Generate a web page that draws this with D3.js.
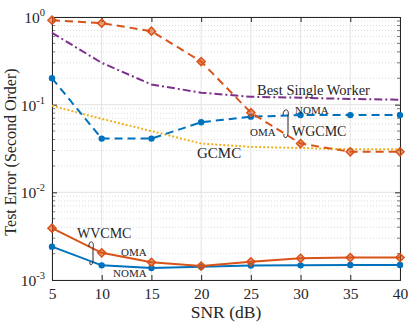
<!DOCTYPE html>
<html>
<head>
<meta charset="utf-8">
<script src="https://cdn.jsdelivr.net/npm/d3@7"></script>
<style>
  body { margin: 0; background: #fff; }
  text { font-family: "Liberation Serif", "DejaVu Serif", serif; fill: #262626; }
</style>
</head>
<body>
<div class="canvas"></div>
<script>
// data
const snr = [5, 10, 15, 20, 25, 30, 35, 40];
const wgcmcOma = [0.92, 0.85, 0.69, 0.31, 0.081, 0.036, 0.029, 0.029];
const wgcmcNoma = [0.20, 0.041, 0.041, 0.063, 0.073, 0.076, 0.076, 0.076];
const gcmc = [0.097, 0.069, 0.050, 0.036, 0.033, 0.032, 0.031, 0.031];
const bestSingle = [0.66, 0.30, 0.17, 0.137, 0.123, 0.12, 0.116, 0.114];
const wvcmcOma = [0.0039, 0.00204, 0.00159, 0.00144, 0.00161, 0.00177, 0.0018, 0.0018];
const wvcmcNoma = [0.0024, 0.00147, 0.00137, 0.00142, 0.00146, 0.00147, 0.00148, 0.00148];
const yTicks = [1e-3, 1e-2, 1e-1, 1e0];
const yTickExp = ['-3', '-2', '-1', '0'];

const W = 409, H = 327;
const margin = {top: 17, right: 9, bottom: 47, left: 52};
const graphWidth = W - margin.left - margin.right;
const graphHeight = H - margin.top - margin.bottom;

const svg = d3.select('.canvas')
              .append('svg')
              .attr('width', W)
              .attr('height', H);

const graph = svg.append('g')
                 .attr('transform', `translate(${margin.left}, ${margin.top})`);

const x = d3.scaleLinear().domain([5, 40]).range([0, graphWidth]);
const y = d3.scaleLog().domain([1e-3, 1]).range([graphHeight, 0]);

// minor grid (dotted)
const minor = [];
for (let e = -3; e < 0; e++) {
  for (let k = 2; k <= 9; k++) minor.push(k * Math.pow(10, e));
}
graph.selectAll('.minor')
     .data(minor)
     .enter().append('line')
     .attr('x1', 0).attr('x2', graphWidth)
     .attr('y1', d => y(d)).attr('y2', d => y(d))
     .attr('stroke', '#d4d4d4')
     .attr('stroke-width', 0.8)
     .attr('stroke-dasharray', '1,2');

// major grid
graph.selectAll('.hgrid')
     .data(yTicks)
     .enter().append('line')
     .attr('x1', 0).attr('x2', graphWidth)
     .attr('y1', d => y(d)).attr('y2', d => y(d))
     .attr('stroke', '#e3e3e3');
graph.selectAll('.vgrid')
     .data(snr)
     .enter().append('line')
     .attr('x1', d => x(d)).attr('x2', d => x(d))
     .attr('y1', 0).attr('y2', graphHeight)
     .attr('stroke', '#e3e3e3');

// axes
const xAxis = d3.axisBottom(x).tickValues(snr).tickSize(-5).tickPadding(8);
const yAxis = d3.axisLeft(y).tickValues(yTicks).tickSize(-5).tickFormat('');

const xAxisGroup = graph.append('g')
                        .attr('transform', `translate(0, ${graphHeight})`)
                        .call(xAxis);
xAxisGroup.selectAll('text')
          .attr('font-size', 15.5)
          .attr('font-family', 'Liberation Serif')
          .attr('fill', '#262626');

const yAxisGroup = graph.append('g').call(yAxis);

// top / right ticks
graph.append('g').call(d3.axisTop(x).tickValues(snr).tickSize(-5).tickFormat(''));
graph.append('g').attr('transform', `translate(${graphWidth},0)`)
     .call(d3.axisRight(y).tickValues(yTicks).tickSize(-5).tickFormat(''));

// minor ticks on y
graph.selectAll('.mtick')
     .data(minor)
     .enter().append('line')
     .attr('x1', 0).attr('x2', 3)
     .attr('y1', d => y(d)).attr('y2', d => y(d))
     .attr('stroke', '#262626').attr('stroke-width', 0.6);
graph.selectAll('.mtickr')
     .data(minor)
     .enter().append('line')
     .attr('x1', graphWidth - 3).attr('x2', graphWidth)
     .attr('y1', d => y(d)).attr('y2', d => y(d))
     .attr('stroke', '#262626').attr('stroke-width', 0.6);

graph.selectAll('.domain').attr('stroke', '#262626');
graph.selectAll('.tick line').attr('stroke', '#262626');

// y tick labels with superscript
const yl = graph.selectAll('.ylab')
     .data(yTicks)
     .enter().append('text')
     .attr('x', -7)
     .attr('y', d => y(d) + 6)
     .attr('text-anchor', 'end')
     .attr('font-size', 15.5);
yl.append('tspan').text('10');
yl.append('tspan')
  .attr('dy', -7)
  .attr('font-size', 10.5)
  .text((d, i) => yTickExp[i]);

// series
const line = d3.line().x((d, i) => x(snr[i])).y(d => y(d));

function drawSeries(vals, color, dash, marker) {
  graph.append('path')
       .datum(vals)
       .attr('d', line)
       .attr('fill', 'none')
       .attr('stroke', color)
       .attr('stroke-width', 2)
       .attr('stroke-dasharray', dash);
  if (marker === 'circle') {
    graph.selectAll(null)
         .data(vals)
         .enter().append('circle')
         .attr('cx', (d, i) => x(snr[i]))
         .attr('cy', d => y(d))
         .attr('r', 3.2)
         .attr('fill', color);
  } else if (marker === 'diamond') {
    graph.selectAll(null)
         .data(vals)
         .enter().append('path')
         .attr('d', d3.symbol(d3.symbolDiamond2, 42))
         .attr('transform', (d, i) => `translate(${x(snr[i])}, ${y(d)})`)
         .attr('fill', color)
         .attr('fill-opacity', 0.55)
         .attr('stroke', color)
         .attr('stroke-width', 1.5);
  }
}

drawSeries(gcmc, '#EDB120', '2,2', null);
drawSeries(bestSingle, '#7E2F8E', '8,3,2,3', null);
drawSeries(wgcmcNoma, '#0072BD', '8,5', 'circle');
drawSeries(wgcmcOma, '#D95319', '8,5', 'diamond');
drawSeries(wvcmcNoma, '#0072BD', null, 'circle');
drawSeries(wvcmcOma, '#D95319', null, 'diamond');

// annotations
function label(txt, lx, ly, size) {
  svg.append('text')
     .attr('x', lx).attr('y', ly)
     .attr('font-size', size)
     .text(txt);
}
label('Best Single Worker', 257, 95, 14.5);
label('NOMA', 295, 114, 11);
label('OMA', 250, 136, 11);
label('WGCMC', 292, 136, 14);
label('GCMC', 197, 158, 15);
label('WVCMC', 77, 238, 14);
label('OMA', 121, 256, 11);
label('NOMA', 113, 277, 11);

// braces
svg.append('path')
   .attr('d', 'M283,115 C283,108 290,108 288,116 L288,133 C288,139 283,139 284,134')
   .attr('fill', 'none').attr('stroke', '#262626').attr('stroke-width', 1);
svg.append('path')
   .attr('d', 'M89,247 C88,240 95,240 93,248 L93,260 C93,266 89,266 90,262')
   .attr('fill', 'none').attr('stroke', '#262626').attr('stroke-width', 1);

// axis titles
svg.append('text')
   .attr('x', margin.left + graphWidth / 2)
   .attr('y', 318)
   .attr('text-anchor', 'middle')
   .attr('font-size', 17.5)
   .text('SNR (dB)');
svg.append('text')
   .attr('transform', 'translate(16, 152) rotate(-90)')
   .attr('text-anchor', 'middle')
   .attr('font-size', 16)
   .text('Test Error (Second Order)');
</script>
</body>
</html>
